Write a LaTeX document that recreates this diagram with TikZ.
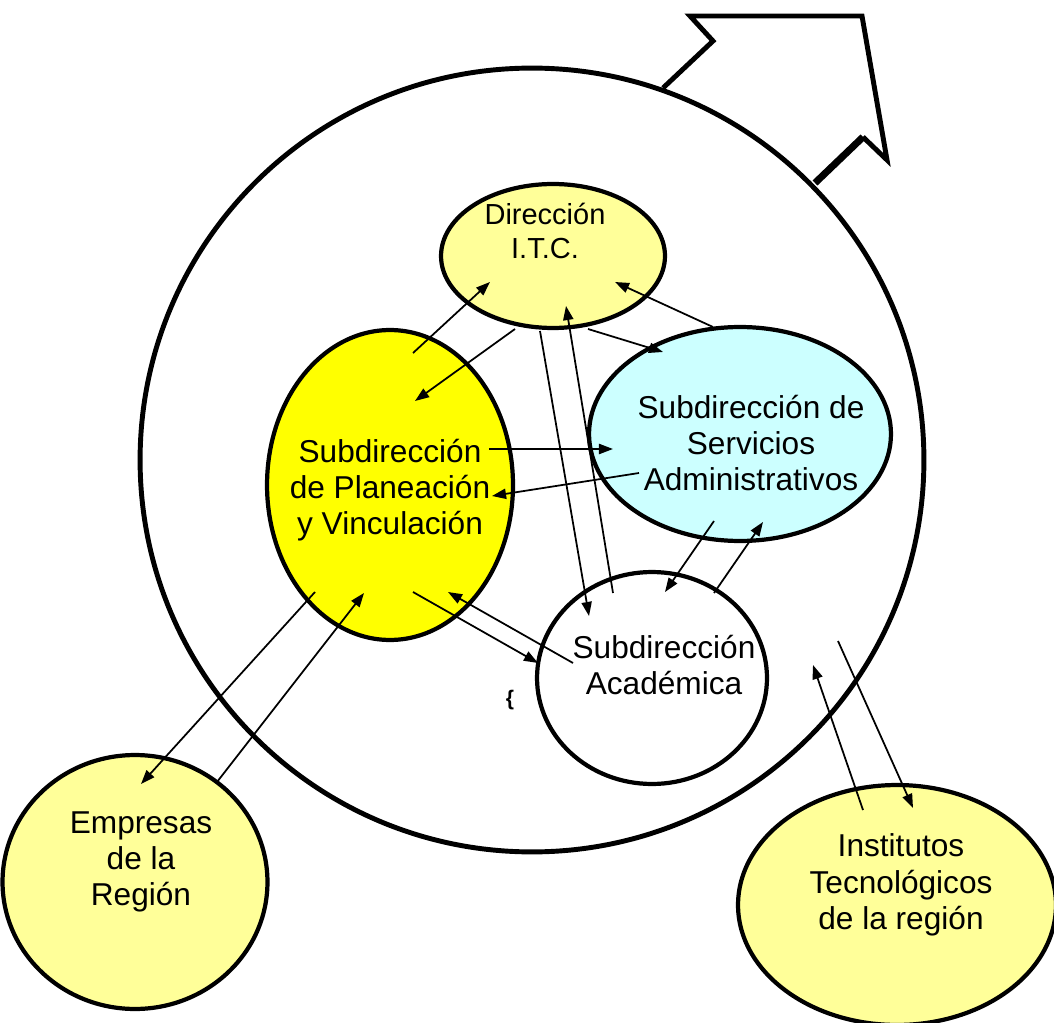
\documentclass[tikz,border=0pt]{standalone}
\usepackage{fontspec}
\setmainfont{Liberation Sans}
\usetikzlibrary{shapes.geometric,arrows.meta}

\definecolor{paleyellow}{HTML}{FFFF99}
\definecolor{brightyellow}{HTML}{FFFF00}
\definecolor{palecyan}{HTML}{CCFFFF}

\tikzset{
  bubble/.style={ellipse, draw=black, line width=2.4pt, inner sep=0pt},
  label18/.style={align=center, inner sep=0pt,
    font=\fontsize{18}{20.6}\selectfont},
  label16/.style={align=center, inner sep=0pt,
    font=\fontsize{16.5}{19.8}\selectfont},
  link/.style={line width=1pt, -{Triangle[length=8pt, width=5.8pt]}},
  frame/.style={line width=2.8pt, line join=miter, line cap=butt},
}

\begin{document}
\begin{tikzpicture}[x=0.02cm, y=-0.02cm]
\useasboundingbox (0,0) rectangle (1054,1023);

% outgoing block arrow behind the institute circle
\coordinate (fa) at (663,88);
\coordinate (fb) at (713,41);
\coordinate (fc) at (690,16);
\coordinate (fd) at (862,16);
\coordinate (fe) at (887,160);
\coordinate (ff) at (863,137);
\coordinate (fg) at (815,183);
\draw[frame] (fa) -- (fb) -- (fc) -- (fd) -- (fe) -- (ff);
\draw[frame, line width=4pt] (ff) -- (fg);

% the institute as a whole
\node[circle, draw=black, line width=2.8pt, fill=white, minimum size=15.68cm,
      inner sep=0pt] (itc) at (532,460) {};

% departments
\node[bubble, fill=paleyellow, minimum width=4.48cm, minimum height=2.88cm]
  (dir) at (553,256) {};
\node[bubble, fill=brightyellow, minimum width=4.92cm, minimum height=6.2cm]
  (plan) at (390,485) {};
\node[bubble, fill=palecyan, minimum width=6.04cm, minimum height=4.28cm]
  (serv) at (740,434) {};
\node[bubble, fill=white, minimum width=4.6cm, minimum height=4.24cm]
  (acad) at (652,678) {};

% external partners
\node[bubble, fill=paleyellow, minimum width=5.3cm, minimum height=5.08cm]
  (emp) at (135,882) {};
\node[bubble, fill=paleyellow, minimum width=6.36cm, minimum height=4.8cm]
  (inst) at (897,905) {};

% labels
\node[label16] (tdir) at (545,231) {Dirección\\I.T.C.};
\node[label18] (tplan) at (390,490) {Subdirección\\de Planeación\\y Vinculación};
\node[label18] (tserv) at (751,443) {Subdirección de\\Servicios\\Administrativos};
\node[label18] (tacad) at (664,665) {Subdirección\\Académica};
\node[label18] (temp) at (141,862) {Empresas\\de la\\Región};
\node[label18] (tinst) at (901,885) {Institutos\\Tecnológicos\\de la región};
\node[inner sep=0pt, font=\fontsize{12}{14}\selectfont\bfseries] (brace) at (510,700) {\{};

% connector end points
\coordinate (pd1) at (413,353);  \coordinate (dp1) at (490,282);
\coordinate (dp2) at (515,329);  \coordinate (pd2) at (415,401);
\coordinate (ds1) at (588,329);  \coordinate (sd1) at (663,352);
\coordinate (sd2) at (713,327);  \coordinate (ds2) at (615,282);
\coordinate (da1) at (540,331);  \coordinate (ad1) at (589,616);
\coordinate (ad2) at (613,593);  \coordinate (da2) at (566,306);
\coordinate (ps1) at (489,449);  \coordinate (sp1) at (613,449);
\coordinate (sp2) at (639,473);  \coordinate (ps2) at (492,496);
\coordinate (sa1) at (714,521);  \coordinate (as1) at (665,592);
\coordinate (as2) at (714,593);  \coordinate (sa2) at (763,522);
\coordinate (pa1) at (413,592);  \coordinate (ap1) at (538,663);
\coordinate (ap2) at (573,663);  \coordinate (pa2) at (448,592);
\coordinate (pe1) at (315,592);  \coordinate (ep1) at (141,784);
\coordinate (ep2) at (217,782);  \coordinate (pe2) at (364,593);
\coordinate (ii1) at (863,810);  \coordinate (ii2) at (813,665);
\coordinate (ii3) at (838,641);  \coordinate (ii4) at (913,808);

% information flows
\draw[link] (pd1) -- (dp1);
\draw[link] (dp2) -- (pd2);
\draw[link] (ds1) -- (sd1);
\draw[link] (sd2) -- (ds2);
\draw[link] (da1) -- (ad1);
\draw[link] (ad2) -- (da2);
\draw[link] (ps1) -- (sp1);
\draw[link] (sp2) -- (ps2);
\draw[link] (sa1) -- (as1);
\draw[link] (as2) -- (sa2);
\draw[link] (pa1) -- (ap1);
\draw[link] (ap2) -- (pa2);
\draw[link] (pe1) -- (ep1);
\draw[link] (ep2) -- (pe2);
\draw[link] (ii1) -- (ii2);
\draw[link] (ii3) -- (ii4);
\end{tikzpicture}
\end{document}
